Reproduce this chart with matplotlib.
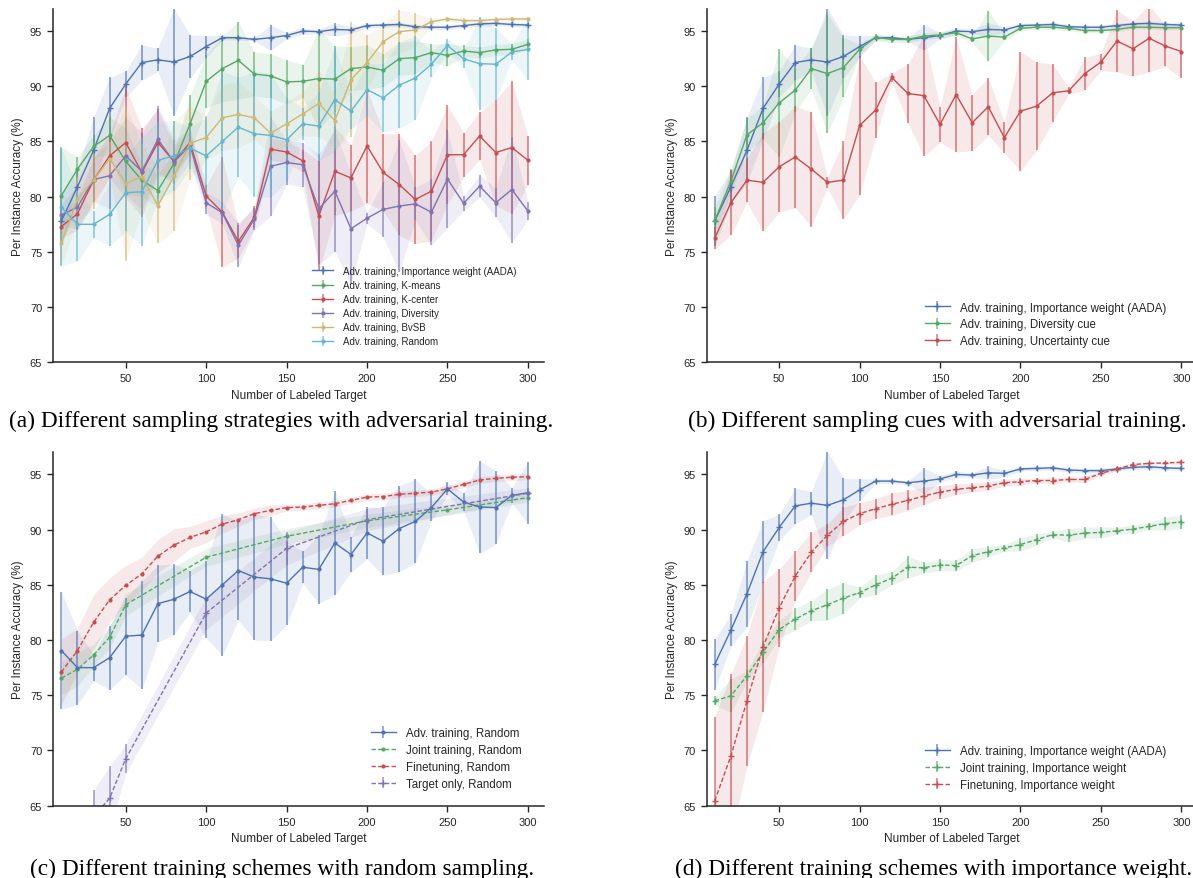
import numpy as np
import matplotlib
matplotlib.use("Agg")
import matplotlib.pyplot as plt

plt.rcParams['font.family'] = ['Liberation Sans', 'DejaVu Sans']
plt.rcParams['text.color'] = '#262626'
plt.rcParams['axes.labelcolor'] = '#262626'
plt.rcParams['xtick.color'] = '#262626'
plt.rcParams['ytick.color'] = '#262626'

BLUE = '#4C72B0'
GREEN = '#55A868'
RED = '#C44E52'
PURPLE = '#8172B2'
YELLOW = '#CCB974'
CYAN = '#64B5CD'

x = np.arange(10, 301, 10)

# AADA (adv. training, importance weight) - shared by (a), (b), (d)
aada_m = [77.8, 80.9, 84.2, 88.0, 90.2, 92.15, 92.4, 92.2, 92.7, 93.6,
          94.4, 94.4, 94.25, 94.4, 94.6, 95.0, 94.95, 95.15, 95.1, 95.5,
          95.55, 95.6, 95.4, 95.35, 95.35, 95.5, 95.65, 95.7, 95.6, 95.55]
aada_e = [2.3, 1.45, 3.0, 2.8, 1.2, 1.6, 1.05, 4.9, 1.95, 1.0,
          0.2, 0.2, 0.15, 1.15, 0.3, 0.3, 0.2, 0.6, 0.3, 0.2,
          0.2, 0.2, 0.2, 0.2, 0.2, 0.2, 0.2, 0.2, 0.2, 0.2]

# (a) sampling strategies
kmeans_m = [80.1, 82.5, 84.55, 85.55, 83.2, 81.5, 80.55, 83.0, 86.6, 90.45,
            91.6, 92.35, 91.1, 90.95, 90.4, 90.45, 90.7, 90.65, 91.6, 91.75,
            91.45, 92.5, 92.6, 93.05, 92.8, 93.2, 93.05, 93.3, 93.35, 93.8]
kmeans_e = [4.4, 1.1, 1.0, 1.7, 3.0, 1.5, 1.5, 1.0, 2.6, 2.4,
            3.0, 3.5, 2.0, 2.0, 2.0, 1.5, 4.5, 3.0, 2.0, 2.0,
            1.5, 1.5, 1.5, 0.8, 1.0, 0.5, 0.5, 0.5, 0.5, 0.5]
kcenter_m = [77.3, 78.45, 81.5, 83.7, 84.9, 82.2, 84.9, 83.2, 84.9, 80.05,
             78.6, 75.95, 78.15, 84.3, 84.05, 83.25, 78.25, 82.3, 81.7, 84.6,
             82.2, 81.1, 79.75, 80.5, 83.8, 83.8, 85.5, 84.0, 84.45, 83.3]
kcenter_e = [1.0, 1.5, 2.0, 2.0, 5.0, 4.0, 3.0, 1.5, 1.0, 1.0,
             5.0, 1.5, 1.0, 1.0, 1.0, 1.0, 5.0, 4.0, 3.0, 5.2,
             3.5, 4.6, 4.0, 4.5, 4.5, 2.0, 2.2, 4.8, 6.0, 2.2]
divers_m = [78.35, 79.05, 81.55, 81.9, 83.7, 82.3, 85.2, 83.15, 84.65, 79.45,
            78.55, 75.6, 78.0, 82.75, 83.1, 82.9, 78.9, 80.5, 77.1, 78.05,
            78.85, 79.15, 79.35, 78.6, 81.6, 79.4, 80.95, 79.45, 80.65, 78.7]
divers_e = [1.0, 2.0, 2.0, 3.0, 3.5, 3.5, 3.0, 2.0, 1.5, 1.0,
            1.0, 2.0, 1.0, 4.5, 2.0, 2.0, 5.0, 5.5, 5.0, 0.5,
            2.5, 6.0, 1.5, 3.0, 4.4, 0.7, 1.0, 1.3, 4.8, 0.8]
bvsb_m = [75.8, 79.8, 81.5, 83.45, 81.2, 81.8, 79.2, 81.85, 84.85, 85.35,
          87.15, 87.45, 87.15, 85.75, 86.6, 87.5, 88.45, 86.9, 90.6, 92.15,
          94.05, 94.95, 95.1, 95.85, 96.1, 95.95, 95.95, 96.05, 96.1, 96.1]
bvsb_e = [2.0, 2.0, 2.6, 1.5, 7.0, 3.0, 3.4, 5.0, 3.3, 2.0,
          3.0, 3.0, 2.0, 2.0, 2.0, 2.0, 3.0, 2.5, 5.2, 2.5,
          1.5, 2.0, 1.5, 0.3, 0.2, 0.2, 0.2, 0.2, 0.2, 0.2]
random_m = [79.05, 77.5, 77.5, 78.4, 80.35, 80.45, 83.3, 83.7, 84.4, 83.7,
            85.0, 86.3, 85.7, 85.55, 85.15, 86.6, 86.4, 88.8, 87.75, 89.7,
            88.95, 90.1, 90.75, 92.0, 93.7, 92.5, 92.05, 92.0, 93.1, 93.35]
random_e = [5.3, 3.35, 1.2, 2.9, 3.5, 4.9, 3.5, 3.2, 1.9, 3.5,
            6.4, 4.5, 5.7, 5.6, 3.8, 1.45, 3.1, 4.7, 1.6, 2.35,
            3.1, 3.9, 3.8, 1.2, 0.6, 0.8, 4.2, 3.3, 0.7, 2.8]

# (b) sampling cues
divcue_m = [77.85, 81.4, 85.6, 86.7, 88.5, 89.65, 91.6, 91.15, 91.7, 93.35,
            94.45, 94.25, 94.25, 94.55, 94.65, 94.85, 94.3, 94.55, 94.45, 95.25,
            95.35, 95.35, 95.25, 95.05, 95.05, 95.15, 95.35, 95.35, 95.3, 95.3]
divcue_e = [1.2, 1.1, 1.5, 1.5, 4.9, 2.0, 1.85, 5.4, 2.7, 0.5,
            0.3, 0.3, 0.3, 0.3, 0.3, 0.3, 0.3, 2.3, 0.3, 0.2,
            0.2, 0.2, 0.2, 0.2, 0.2, 0.2, 0.2, 0.2, 0.2, 0.2]
unccue_m = [76.25, 79.45, 81.5, 81.3, 82.7, 83.6, 82.5, 81.3, 81.5, 86.45,
            87.85, 90.8, 89.35, 89.15, 86.55, 89.25, 86.7, 88.15, 85.35, 87.75,
            88.2, 89.4, 89.6, 91.15, 92.2, 94.1, 93.4, 94.35, 93.65, 93.15]
unccue_e = [1.0, 2.95, 2.0, 4.45, 4.1, 4.6, 5.2, 0.5, 3.5, 6.3,
            2.5, 0.4, 2.65, 5.5, 1.6, 5.2, 2.55, 2.6, 1.4, 5.4,
            4.0, 2.6, 0.3, 1.5, 0.75, 2.8, 2.5, 3.05, 1.85, 2.4]

# (c) training schemes, random sampling
xj = [10, 20, 30, 40, 50, 100, 150, 200, 250, 300]
joint_r_m = [76.55, 77.35, 78.65, 80.25, 83.2, 87.5, 89.4, 90.8, 91.8, 92.9]
joint_r_e = [1.5, 1.5, 1.0, 1.0, 1.0, 0.8, 0.7, 0.6, 0.5, 0.4]
fine_r_m = [77.1, 79.05, 81.6, 83.65, 84.95, 86.0, 87.6, 88.6, 89.3, 89.8,
            90.5, 90.9, 91.45, 91.75, 92.0, 92.05, 92.2, 92.35, 92.65, 92.95,
            93.0, 93.2, 93.3, 93.4, 93.7, 94.1, 94.5, 94.65, 94.75, 94.8]
fine_r_e = [3.0, 2.0, 2.5, 2.0, 1.8, 1.5, 1.5, 1.5, 1.0, 1.0,
            0.8, 0.6, 0.5, 0.5, 0.3, 0.3, 0.3, 0.3, 0.3, 0.3,
            0.3, 0.3, 0.3, 0.3, 0.3, 0.3, 0.3, 0.3, 0.3, 0.3]
xt = [30, 40, 50, 100, 150, 200, 300]
target_m = [64.0, 65.67, 69.25, 82.45, 88.3, 90.9, 93.3]
target_e = [2.4, 2.9, 1.3, 1.5, 1.5, 1.0, 0.5]

# (d) training schemes, importance weight
joint_w_m = [74.5, 74.95, 76.75, 78.9, 80.95, 81.9, 82.65, 83.2, 83.8, 84.3,
             85.0, 85.6, 86.6, 86.55, 86.8, 86.75, 87.65, 88.0, 88.35, 88.65,
             89.1, 89.55, 89.5, 89.7, 89.75, 89.9, 90.05, 90.3, 90.55, 90.7]
joint_w_e = [0.4, 1.5, 0.5, 1.0, 0.8, 1.0, 0.9, 1.4, 1.4, 0.5,
             0.9, 0.6, 1.0, 0.5, 0.5, 0.5, 0.6, 0.5, 0.3, 0.6,
             0.5, 0.3, 0.6, 0.5, 0.5, 0.3, 0.4, 0.3, 0.6, 0.6]
fine_w_m = [65.45, 69.5, 74.5, 79.4, 82.9, 85.8, 87.95, 89.5, 90.75, 91.45,
            91.9, 92.3, 92.65, 93.05, 93.4, 93.65, 93.8, 93.95, 94.25, 94.35,
            94.45, 94.45, 94.55, 94.55, 95.1, 95.5, 95.9, 96.0, 96.05, 96.1]
fine_w_e = [7.6, 7.4, 5.9, 5.9, 3.55, 2.25, 1.8, 1.0, 1.3, 1.0,
            0.9, 1.0, 0.9, 0.8, 0.6, 0.5, 0.4, 0.4, 0.3, 0.3,
            0.2, 0.3, 0.2, 0.3, 0.2, 0.2, 0.2, 0.1, 0.1, 0.2]

DASH = (0, (3.2, 1.6))


def series(ax, xs, m, e, color, label, marker='.', ls='-', bars=True, ms=4):
    xs = np.asarray(xs)
    m = np.asarray(m)
    e = np.asarray(e)
    ax.fill_between(xs, m - e, m + e, color=color, alpha=0.12, lw=0)
    if bars:
        h = ax.errorbar(xs, m, yerr=e, color=color, ls=ls, lw=1.0, marker=marker,
                        ms=ms, mew=1, ecolor=matplotlib.colors.to_rgba(color, 0.75),
                        elinewidth=1.1, capsize=0, label=label)
    else:
        h, = ax.plot(xs, m, color=color, ls=ls, lw=1.0, marker=marker, ms=ms, label=label)
    return h


def style(ax):
    ax.set_xlim(5, 310)
    ax.set_ylim(65, 97)
    ax.set_xticks([50, 100, 150, 200, 250, 300])
    ax.set_yticks([65, 70, 75, 80, 85, 90, 95])
    ax.spines['top'].set_visible(False)
    ax.spines['right'].set_visible(False)
    for s in ['left', 'bottom']:
        ax.spines[s].set_color('#262626')
        ax.spines[s].set_linewidth(1.1)
    ax.tick_params(labelsize=8, length=4.5, width=1, direction='out')
    ax.set_xlabel("Number of Labeled Target", fontsize=8.5, labelpad=4)
    ax.set_ylabel("Per Instance Accuracy (%)", fontsize=8.5, labelpad=4)


fig = plt.figure(figsize=(11.93, 8.79), dpi=100)
aw, ah = 0.4113, 0.4019
axa = fig.add_axes([0.0447, 0.5867, aw, ah])
axb = fig.add_axes([0.5924, 0.5867, aw, ah])
axc = fig.add_axes([0.0447, 0.0823, aw, ah])
axd = fig.add_axes([0.5924, 0.0823, aw, ah])

# (a)
ha = [series(axa, x, aada_m, aada_e, BLUE, "Adv. training, Importance weight (AADA)", marker='+'),
      series(axa, x, kmeans_m, kmeans_e, GREEN, "Adv. training, K-means"),
      series(axa, x, kcenter_m, kcenter_e, RED, "Adv. training, K-center"),
      series(axa, x, divers_m, divers_e, PURPLE, "Adv. training, Diversity"),
      series(axa, x, bvsb_m, bvsb_e, YELLOW, "Adv. training, BvSB"),
      series(axa, x, random_m, random_e, CYAN, "Adv. training, Random")]

# (b)
hb = [series(axb, x, aada_m, aada_e, BLUE, "Adv. training, Importance weight (AADA)", marker='+'),
      series(axb, x, divcue_m, divcue_e, GREEN, "Adv. training, Diversity cue"),
      series(axb, x, unccue_m, unccue_e, RED, "Adv. training, Uncertainty cue")]

# (c)
hc = [series(axc, x, random_m, random_e, BLUE, "Adv. training, Random"),
      series(axc, xj, joint_r_m, joint_r_e, GREEN, "Joint training, Random", ls=DASH, bars=False),
      series(axc, x, fine_r_m, fine_r_e, RED, "Finetuning, Random", ls=DASH, bars=False),
      series(axc, xt, target_m, target_e, PURPLE, "Target only, Random", marker='+', ls=DASH)]

# (d)
hd = [series(axd, x, aada_m, aada_e, BLUE, "Adv. training, Importance weight (AADA)", marker='+'),
      series(axd, x, joint_w_m, joint_w_e, GREEN, "Joint training, Importance weight", marker='+', ls=DASH),
      series(axd, x, fine_w_m, fine_w_e, RED, "Finetuning, Importance weight", marker='+', ls=DASH)]

for ax in [axa, axb, axc, axd]:
    style(ax)

leg_kw = dict(frameon=False, loc='upper left', borderpad=0, borderaxespad=0,
              handlelength=2.2, labelspacing=0.42)
axa.legend(handles=ha, fontsize=7, bbox_to_anchor=(0.527, 0.273), handletextpad=1.0, **leg_kw)
axb.legend(handles=hb, fontsize=8.3, bbox_to_anchor=(0.444, 0.172), handletextpad=0.87, **leg_kw)
axc.legend(handles=hc, fontsize=8.3, bbox_to_anchor=(0.647, 0.222), handletextpad=0.87, **leg_kw)
axd.legend(handles=hd, fontsize=8.3, bbox_to_anchor=(0.444, 0.172), handletextpad=0.87, **leg_kw)

cap_kw = dict(family=['Liberation Serif', 'DejaVu Serif'], fontsize=16.8,
              ha='center', va='baseline', color='black')
fig.text(281.5 / 1193, 1 - 427 / 879, "(a) Different sampling strategies with adversarial training.", **cap_kw)
fig.text(937 / 1193, 1 - 427 / 879, "(b) Different sampling cues with adversarial training.", **cap_kw)
fig.text(282 / 1193, 1 - 875 / 879, "(c) Different training schemes with random sampling.", **cap_kw)
fig.text(934 / 1193, 1 - 875 / 879, "(d) Different training schemes with importance weight.", **cap_kw)

fig.savefig("out.png", dpi=100)
